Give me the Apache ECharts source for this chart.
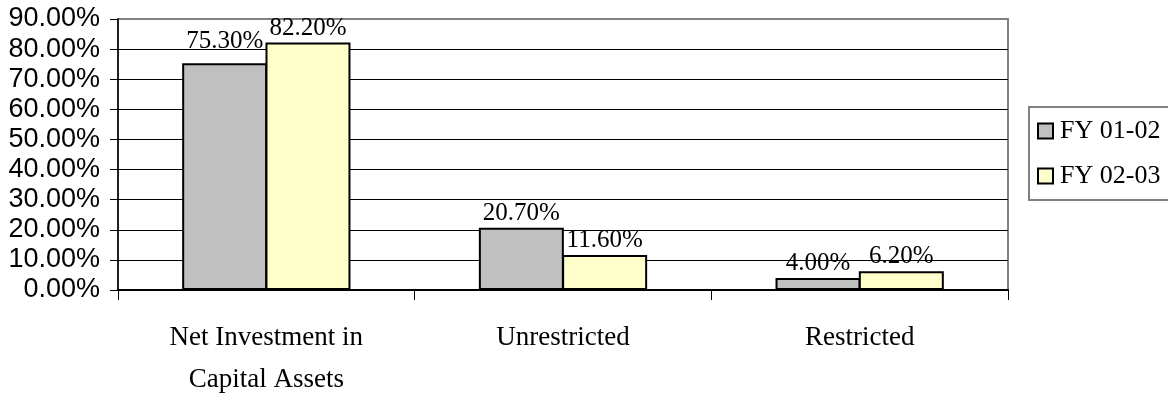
<!DOCTYPE html>
<html>
<head>
<meta charset="utf-8">
<script src="https://cdn.jsdelivr.net/npm/echarts@6/dist/echarts.min.js"></script>
<style>
html,body{margin:0;padding:0;background:#fff;}
#c{width:1168px;height:398px;}
</style>
</head>
<body>
<div id="c"></div>
<script>
const categories = ['Net Investment in\nCapital Assets', 'Unrestricted', 'Restricted'];
const seriesNames = ['FY 01-02', 'FY 02-03'];
const fy0102 = [75.3, 20.7, 4.0];
const fy0203 = [82.2, 11.6, 6.2];
const yTicks = [0, 10, 20, 30, 40, 50, 60, 70, 80, 90];

const serif = '"Liberation Serif", "Times New Roman", serif';
const sans = '"Liberation Sans", Arial, sans-serif';

const chart = echarts.init(document.getElementById('c'), null, {renderer: 'canvas'});

function makeData(vals, extraFirst) {
  return vals.map((v, i) => {
    const d = {value: v};
    if (extraFirst && i === 0) d.label = {distance: 9};
    return d;
  });
}

const labelStyle = {
  show: true,
  position: 'top',
  distance: 2,
  fontFamily: serif,
  fontSize: 25,
  color: '#000',
  formatter: p => p.value.toFixed(2) + '%'
};

chart.setOption({
  animation: false,
  backgroundColor: '#fff',
  grid: {
    left: 118, right: 160, top: 19, bottom: 108,
    outerBoundsMode: 'none', containLabel: false,
    show: true, borderColor: '#808080', borderWidth: 2, backgroundColor: 'transparent'
  },
  legend: {
    orient: 'vertical',
    left: 1029, top: 107,
    padding: [11, 20, 11, 8],
    itemWidth: 15, itemHeight: 15, itemGap: 19,
    borderColor: '#808080', borderWidth: 2,
    textStyle: {fontFamily: serif, fontSize: 26, color: '#000', padding: [0, 0, 0, 2]},
    data: seriesNames.map(n => ({name: n, icon: 'rect'})),
    itemStyle: {borderColor: '#000', borderWidth: 2}
  },
  xAxis: {
    type: 'category',
    data: categories,
    axisLine: {show: true, lineStyle: {color: '#000', width: 2}},
    axisTick: {show: true, length: 10, lineStyle: {color: '#000', width: 1}},
    axisLabel: {fontFamily: serif, fontSize: 27, color: '#000', lineHeight: 42, margin: 27, interval: 0}
  },
  yAxis: {
    type: 'value',
    min: yTicks[0], max: yTicks[yTicks.length - 1], interval: 10,
    axisLine: {show: true, lineStyle: {color: '#000', width: 1.5}},
    axisTick: {show: true, length: 8, lineStyle: {color: '#000'}},
    axisLabel: {fontFamily: sans, fontSize: 27, color: '#000', margin: 18,
      formatter: v => v.toFixed(2) + '%'},
    splitLine: {show: true, lineStyle: {color: ['#000','#000','#000','#000','#000','#000','#000','#000','#000','#808080'], width: 1}}
  },
  series: [
    {
      name: seriesNames[0], type: 'bar', data: makeData(fy0102, true),
      barWidth: 85, barGap: '-2%',
      itemStyle: {color: '#C0C0C0', borderColor: '#000', borderWidth: 2},
      label: labelStyle
    },
    {
      name: seriesNames[1], type: 'bar', data: makeData(fy0203, false),
      barWidth: 85, barGap: '-2%',
      itemStyle: {color: '#FFFFCC', borderColor: '#000', borderWidth: 2},
      label: labelStyle
    }
  ]
});
</script>
</body>
</html>
